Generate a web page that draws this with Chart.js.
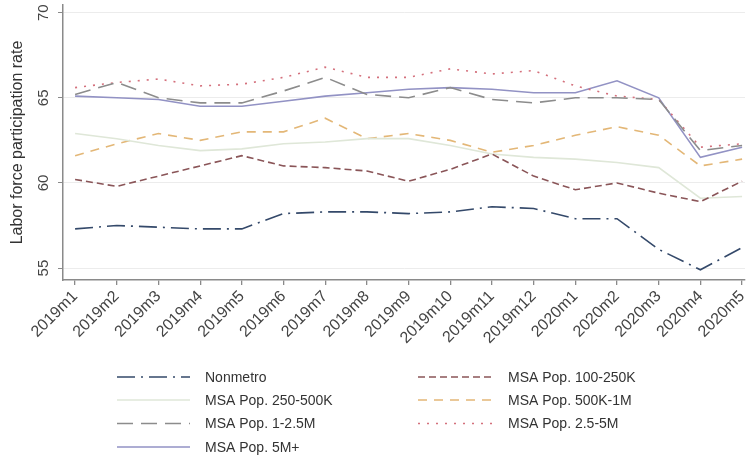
<!DOCTYPE html>
<html>
<head>
<meta charset="utf-8">
<script src="https://cdn.jsdelivr.net/npm/chart.js@4/dist/chart.umd.min.js"></script>
<style>
  html, body { margin: 0; padding: 0; background: #fff; }
  #wrap { width: 751px; height: 466px; }
</style>
</head>
<body>
<div id="wrap"><canvas id="lfpChart" width="751" height="466"></canvas></div>
<script>
// months on the x axis
const months = ["2019m1", "2019m2", "2019m3", "2019m4", "2019m5", "2019m6", "2019m7", "2019m8", "2019m9",
    "2019m10", "2019m11", "2019m12", "2020m1", "2020m2", "2020m3", "2020m4", "2020m5"];
const yTicks = [55, 60, 65, 70];

// labor force participation rate by area size
const nonmetro   = [57.3, 57.5, 57.4, 57.3, 57.3, 58.2, 58.3, 58.3, 58.2, 58.3, 58.6, 58.5, 57.9, 57.9, 56.1, 54.9, 56.2];
const pop100_250 = [60.2, 59.8, 60.4, 61.0, 61.6, 61.0, 60.9, 60.7, 60.1, 60.8, 61.7, 60.4, 59.6, 60.0, 59.4, 58.9, 60.1];
const pop250_500 = [62.9, 62.6, 62.2, 61.9, 62.0, 62.3, 62.4, 62.6, 62.6, 62.2, 61.7, 61.5, 61.4, 61.2, 60.9, 59.1, 59.2];
const pop500_1m  = [61.6, 62.3, 62.9, 62.5, 63.0, 63.0, 63.8, 62.6, 62.9, 62.5, 61.8, 62.2, 62.8, 63.3, 62.8, 61.0, 61.4];
const pop1_25m   = [65.2, 65.9, 65.0, 64.7, 64.7, 65.4, 66.2, 65.2, 65.0, 65.6, 64.9, 64.7, 65.0, 65.0, 64.9, 61.9, 62.2];
const pop25_5m   = [65.6, 65.9, 66.1, 65.7, 65.8, 66.2, 66.8, 66.2, 66.2, 66.7, 66.4, 66.6, 65.7, 65.1, 64.9, 62.1, 62.3];
const pop5mPlus  = [65.1, 65.0, 64.9, 64.5, 64.5, 64.8, 65.1, 65.3, 65.5, 65.6, 65.5, 65.3, 65.3, 66.0, 65.0, 61.5, 62.1];

const FONT = '"Liberation Sans", Arial, sans-serif';

function pts(arr) {
    return arr.map((v, i) => ({ x: i, y: v }));
}

function series(label, arr, color, dash, width) {
    return {
        label: label,
        data: pts(arr),
        borderColor: color,
        borderWidth: width || 1.6,
        borderDash: dash,
        pointRadius: 0,
        fill: false,
        tension: 0
    };
}

// legend in two columns under the plot
const legendPlugin = {
    id: 'twoColLegend',
    afterDraw(chart) {
        const ctx = chart.ctx;
        const cols = [{ x1: 117, x2: 190, tx: 205 }, { x1: 418, x2: 492, tx: 508 }];
        const rows = [377, 400, 423.5, 447];
        ctx.save();
        ctx.font = '14px ' + FONT;
        ctx.textBaseline = 'middle';
        chart.data.datasets.forEach((ds, k) => {
            const c = cols[k % 2];
            const y = rows[Math.floor(k / 2)];
            ctx.strokeStyle = ds.borderColor;
            ctx.lineWidth = ds.borderWidth;
            ctx.setLineDash(ds.borderDash || []);
            ctx.beginPath();
            ctx.moveTo(c.x1, y);
            ctx.lineTo(c.x2, y);
            ctx.stroke();
            ctx.setLineDash([]);
            ctx.fillStyle = '#333';
            ctx.fillText(ds.label, c.tx, y + 1);
        });
        ctx.restore();
    }
};

new Chart(document.getElementById('lfpChart'), {
    type: 'line',
    data: {
        datasets: [
            series('Nonmetro', nonmetro, '#34496a', [18, 6, 2, 6]),
            series('MSA Pop. 100-250K', pop100_250, '#8a5558', [7, 4]),
            series('MSA Pop. 250-500K', pop250_500, '#dfe7d8', []),
            series('MSA Pop. 500K-1M', pop500_1m, '#e3b777', [9, 7]),
            series('MSA Pop. 1-2.5M', pop1_25m, '#8c8c8c', [16, 8]),
            series('MSA Pop. 2.5-5M', pop25_5m, '#d4707c', [2, 7]),
            series('MSA Pop. 5M+', pop5mPlus, '#9292c4', [])
        ]
    },
    options: {
        responsive: false,
        animation: false,
        layout: { padding: { top: 5, right: 6, left: 0, bottom: 0 } },
        plugins: {
            legend: { display: false },
            tooltip: { enabled: false }
        },
        scales: {
            x: {
                type: 'linear',
                min: -0.29,
                max: 16.07,
                afterBuildTicks(scale) {
                    scale.ticks = months.map((m, i) => ({ value: i }));
                },
                afterFit(scale) {
                    scale.height = 186;
                    scale.paddingLeft = 0;
                    scale.paddingRight = 0;
                },
                ticks: {
                    autoSkip: false,
                    minRotation: 45,
                    maxRotation: 45,
                    padding: 2,
                    color: '#444',
                    font: { family: FONT, size: 16 },
                    callback: (v) => months[v]
                },
                grid: { drawOnChartArea: false, tickColor: '#8a8a8a', tickLength: 5, lineWidth: 1.3 },
                border: { color: '#8a8a8a', width: 1.5 }
            },
            y: {
                min: 54.3,
                max: 70.45,
                afterBuildTicks(scale) {
                    scale.ticks = yTicks.map(v => ({ value: v }));
                },
                afterFit(scale) {
                    scale.width = 63;
                    scale.paddingTop = 0;
                    scale.paddingBottom = 0;
                },
                ticks: {
                    minRotation: 90,
                    maxRotation: 90,
                    crossAlign: 'center',
                    padding: 6,
                    color: '#444',
                    font: { family: FONT, size: 15 }
                },
                title: {
                    display: true,
                    text: 'Labor force participation rate',
                    color: '#333',
                    padding: { top: 8, bottom: 0 },
                    font: { family: FONT, size: 16 }
                },
                grid: { color: '#ececec', tickColor: '#8a8a8a', tickLength: 5, lineWidth: 1 },
                border: { color: '#8a8a8a', width: 1.5 }
            }
        }
    },
    plugins: [legendPlugin]
});
</script>
</body>
</html>
